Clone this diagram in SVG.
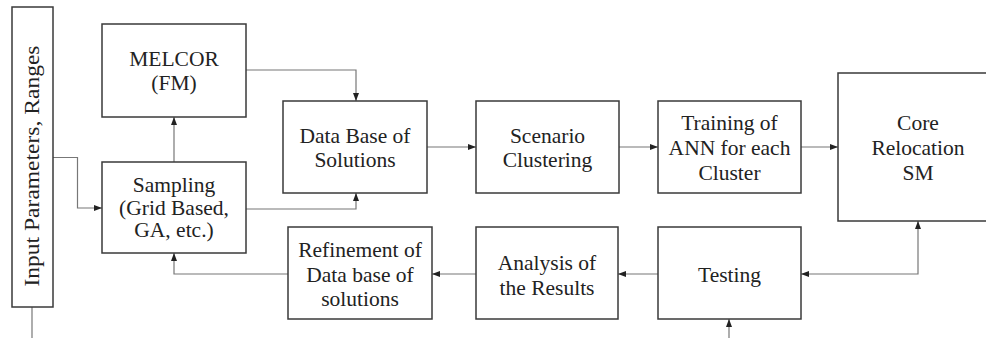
<svg xmlns="http://www.w3.org/2000/svg" width="986" height="338" viewBox="0 0 986 338">
  <style>
    .box { fill: #ffffff; stroke: #3a3a3a; stroke-width: 1.5; }
    .lbl { font-family: "Liberation Serif", "Times New Roman", serif; font-size: 21.5px; fill: #222222; text-anchor: middle; }
    .wire { fill: none; stroke: #777777; stroke-width: 1.2; }
  </style>
  <defs>
    <marker id="arrow" viewBox="0 0 8 6" refX="8" refY="3" markerWidth="8" markerHeight="6" markerUnits="userSpaceOnUse" orient="auto-start-reverse">
      <path d="M0,0 L8,3 L0,6 Z" fill="#222222"/>
    </marker>
  </defs>
  <rect width="986" height="338" fill="#ffffff"/>

  <!-- connectors -->
  <g id="connectors">
    <path class="wire" d="M53,157.5 H77.5 V208 H102" marker-end="url(#arrow)"/>
    <path class="wire" d="M174,162 V117" marker-end="url(#arrow)"/>
    <path class="wire" d="M246,70 H356 V101" marker-end="url(#arrow)"/>
    <path class="wire" d="M246,209 H356 V193" marker-end="url(#arrow)"/>
    <path class="wire" d="M427,147 H476" marker-end="url(#arrow)"/>
    <path class="wire" d="M619,147 H658" marker-end="url(#arrow)"/>
    <path class="wire" d="M801,147 H838" marker-end="url(#arrow)"/>
    <path class="wire" d="M918,221 V274 H801" marker-start="url(#arrow)" marker-end="url(#arrow)"/>
    <path class="wire" d="M658,274 H618" marker-end="url(#arrow)"/>
    <path class="wire" d="M476,274 H432" marker-end="url(#arrow)"/>
    <path class="wire" d="M288,274 H174 V253" marker-end="url(#arrow)"/>
    <path class="wire" d="M32,307 V338"/>
    <path class="wire" d="M729,338 V319" marker-end="url(#arrow)"/>
  </g>

  <g id="input">
    <rect class="box" x="12" y="7" width="41" height="300"/>
    <text class="lbl" transform="translate(38.5,166) rotate(-90)" textLength="241" lengthAdjust="spacingAndGlyphs">Input Parameters, Ranges</text>
  </g>

  <g id="melcor">
    <rect class="box" x="102" y="24" width="144" height="93"/>
    <text class="lbl" x="174" y="66">MELCOR</text>
    <text class="lbl" x="174" y="90">(FM)</text>
  </g>

  <g id="sampling">
    <rect class="box" x="102" y="162" width="144" height="91"/>
    <text class="lbl" x="174" y="192">Sampling</text>
    <text class="lbl" x="174" y="215">(Grid Based,</text>
    <text class="lbl" x="174" y="237">GA, etc.)</text>
  </g>

  <g id="database">
    <rect class="box" x="283" y="101" width="144" height="92"/>
    <text class="lbl" x="355" y="143">Data Base of</text>
    <text class="lbl" x="355" y="167">Solutions</text>
  </g>

  <g id="clustering">
    <rect class="box" x="476" y="101" width="143" height="92"/>
    <text class="lbl" x="547.5" y="143">Scenario</text>
    <text class="lbl" x="547.5" y="167">Clustering</text>
  </g>

  <g id="training">
    <rect class="box" x="658" y="101" width="143" height="92"/>
    <text class="lbl" x="729.5" y="130">Training of</text>
    <text class="lbl" x="729.5" y="155">ANN for each</text>
    <text class="lbl" x="729.5" y="180">Cluster</text>
  </g>

  <g id="core">
    <rect class="box" x="838" y="73" width="160" height="148"/>
    <text class="lbl" x="918" y="130">Core</text>
    <text class="lbl" x="918" y="155">Relocation</text>
    <text class="lbl" x="918" y="180">SM</text>
  </g>

  <g id="refinement">
    <rect class="box" x="288" y="227" width="144" height="92"/>
    <text class="lbl" x="360" y="257">Refinement of</text>
    <text class="lbl" x="360" y="282">Data base of</text>
    <text class="lbl" x="360" y="306">solutions</text>
  </g>

  <g id="analysis">
    <rect class="box" x="476" y="227" width="142" height="92"/>
    <text class="lbl" x="547" y="270">Analysis of</text>
    <text class="lbl" x="547" y="295">the Results</text>
  </g>

  <g id="testing">
    <rect class="box" x="658" y="227" width="143" height="92"/>
    <text class="lbl" x="729.5" y="282">Testing</text>
  </g>
</svg>
